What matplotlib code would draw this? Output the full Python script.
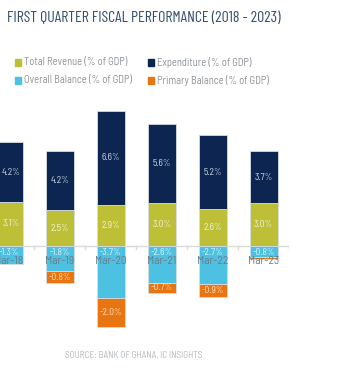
import matplotlib.pyplot as plt

plt.rcParams['font.family'] = ['Barlow Semi Condensed', 'DejaVu Sans']

# data (% of GDP)
quarters = ['Mar-18', 'Mar-19', 'Mar-20', 'Mar-21', 'Mar-22', 'Mar-23']
revenue = [3.1, 2.5, 2.9, 3.0, 2.6, 3.0]
expenditure = [4.2, 4.2, 6.6, 5.6, 5.2, 3.7]
overall = [-1.3, -1.8, -3.7, -2.6, -2.7, -0.8]
primary = [0.0, -0.8, -2.0, -0.7, -0.9, -0.1]
primary_labels = ['', '-0.8%', '-2.0%', '-0.7%', '-0.9%', '']

c_rev = '#bdbf37'
c_exp = '#0c2651'
c_ovr = '#4cc1e1'
c_pri = '#e8750f'

fig = plt.figure(figsize=(3.5, 3.75), dpi=100)
ax = fig.add_axes([0, 0.1173, 0.826, 0.6053])

x = list(range(len(quarters)))
w = 0.55
edge = dict(edgecolor='#d5dde4', linewidth=0.6)

b1 = ax.bar(x, revenue, w, color=c_rev, **edge)
b2 = ax.bar(x, expenditure, w, bottom=revenue, color=c_exp, **edge)
b3 = ax.bar(x, overall, w, color=c_ovr, **edge)
b4 = ax.bar(x, primary, w, bottom=overall, color=c_pri, **edge)

lab = dict(label_type='center', fontsize=6.8)
ax.bar_label(b1, labels=[f'{v:.1f}%' for v in revenue], color='#f4f4dc', **lab)
ax.bar_label(b2, labels=[f'{v:.1f}%' for v in expenditure], color='#d0d8e8', **lab)
ax.bar_label(b4, labels=primary_labels, color='#fbe3cc', **lab)
for i, v in enumerate(overall):
    ax.text(i, -0.45, f'{v:.1f}%', ha='center', va='center', fontsize=6.8, color='#e3f6fb')
    ax.text(i, -1.05, quarters[i], ha='center', va='center', fontsize=8.3, color='#6b7b88')

for s in ['top', 'right', 'left', 'bottom']:
    ax.spines[s].set_visible(False)
ax.axhline(0, color='#d9d9d9', lw=1, zorder=0)
ax.set_xticks([])
ax.set_yticks([])
# small tick marks sitting under the zero line, between the quarters
for i in range(0, 6):
    ax.plot([i + 0.5, i + 0.5], [0, -0.25], color='#d9d9d9', lw=1, zorder=0)
ax.set_xlim(-0.176, 5.5)
ax.set_ylim(-6, 10)

fig.text(0.02, 0.952, 'FIRST QUARTER FISCAL PERFORMANCE (2018 - 2023)', fontsize=11.4,
         family=['Barlow Condensed', 'DejaVu Sans'],
         color='#34506e', va='center', ha='left')

legend = [(c_rev, 'Total Revenue (% of GDP)', 0.043, 0.834),
          (c_exp, 'Expenditure (% of GDP)', 0.423, 0.834),
          (c_ovr, 'Overall Balance (% of GDP)', 0.043, 0.786),
          (c_pri, 'Primary Balance (% of GDP)', 0.423, 0.786)]
for col, txt, lx, ly in legend:
    fig.patches.append(plt.Rectangle((lx, ly - 0.009), 0.018, 0.018, color=col,
                                     transform=fig.transFigure))
    fig.text(lx + 0.026, ly, txt, fontsize=7.6, color='#8e9499', va='center', ha='left')

fig.text(0.186, 0.053, 'SOURCE: BANK OF GHANA, IC INSIGHTS', fontsize=6.6,
         color='#b3b8bd', va='center', ha='left')

fig.savefig('out.png', dpi=100)
